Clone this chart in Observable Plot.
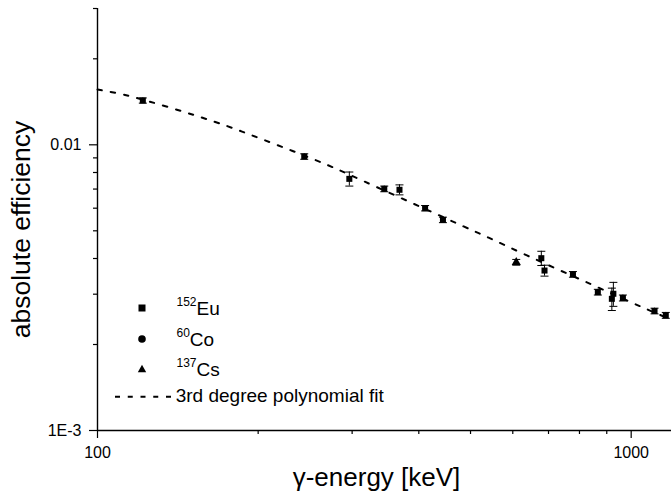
<!DOCTYPE html>
<html>
<head>
<meta charset="utf-8">
<script src="https://cdn.jsdelivr.net/npm/d3@7"></script>
<script src="https://cdn.jsdelivr.net/npm/@observablehq/plot@0.6"></script>
<style>
  body { margin: 0; background: #fff; }
  #wrap { position: relative; width: 671px; height: 494px; font-family: "Liberation Sans", Arial, sans-serif; color: #000; }
  #chart { position: absolute; left: 0; top: 0; }
  .lg { position: absolute; font-size: 19px; line-height: 19px; white-space: nowrap; }
  .lg sup { font-size: 12px; vertical-align: 9px; line-height: 0; }
  .sym { position: absolute; }
</style>
</head>
<body>
<div id="wrap">
  <div id="chart"></div>
  <div id="legend"></div>
</div>
<script>
// ---- data ----
const energy      = [121.6, 244.0, 296.4, 344.6, 368.0, 411.0, 443.9, 609.0, 678.6, 688.0, 777.8, 866.0, 926.0, 920.0, 964.9, 1106.0, 1161.0];
const efficiency  = [0.01429, 0.00910, 0.00760, 0.00701, 0.00696, 0.00600, 0.00546, 0.00388, 0.00401, 0.00363, 0.00352, 0.00305, 0.00301, 0.00289, 0.00291, 0.00262, 0.00253];
const uncertainty = [0.00030, 0.00020, 0.00043, 0.00016, 0.00028, 0.00013, 0.00012, 0.00009, 0.00023, 0.00016, 0.00008, 0.00007, 0.00029, 0.00026, 0.00007, 0.00006, 0.00006];
const source      = ["Eu","Eu","Eu","Eu","Eu","Eu","Eu","Cs","Eu","Eu","Eu","Eu","Eu","Eu","Eu","Eu","Eu"];

const fitEnergy     = [100, 113.7, 165.1, 204.8, 269.2, 315.3, 485.3, 540.5, 637.8, 838, 1040, 1190];
const fitEfficiency = [0.01561, 0.01488, 0.01207, 0.01041, 0.00851, 0.00746, 0.00518, 0.00473, 0.00410, 0.00326, 0.00272, 0.00244];

const xDomain = [100, 1190];
const yDomain = [0.001, 0.03];
const xMajorTicks = [100, 1000];
const xTickLabels = ["100", "1000"];
const xMinorTicks = [200, 300, 400, 500, 600, 700, 800, 900];
const yMajorTicks = [0.001, 0.01];
const yTickLabels = ["1E-3", "0.01"];
const yMinorTicks = [0.002, 0.003, 0.004, 0.005, 0.006, 0.007, 0.008, 0.009, 0.02, 0.03];

const xTitle = "γ-energy [keV]";
const yTitle = "absolute efficiency";
const legendIsotopes = [["152", "Eu"], ["60", "Co"], ["137", "Cs"]];
const legendFit = "3rd degree polynomial fit";

// ---- build ----
const points = energy.map((e, i) => ({e, eff: efficiency[i], err: uncertainty[i], src: source[i]}));
const fit = fitEnergy.map((e, i) => ({e, eff: fitEfficiency[i]}));

const capSymbol = {
  draw(ctx, size) {
    const w = Math.sqrt(size / Math.PI);
    ctx.moveTo(-w, 0);
    ctx.lineTo(w, 0);
  }
};

const chart = Plot.plot({
  width: 671,
  height: 494,
  marginLeft: 97,
  marginRight: 0,
  marginTop: 8,
  marginBottom: 64,
  style: {fontFamily: "'Liberation Sans', Arial, sans-serif", fontSize: "16px", color: "#000", background: "#fff"},
  x: {type: "log", domain: xDomain, axis: null},
  y: {type: "log", domain: yDomain, axis: null},
  marks: [
    Plot.ruleX([xDomain[0]], {stroke: "#000", strokeWidth: 1.4}),
    Plot.ruleY([yDomain[0]], {stroke: "#000", strokeWidth: 1.4}),
    Plot.axisX({ticks: xMajorTicks, tickSize: 8, tickPadding: 8.5, tickFormat: d => xTickLabels[xMajorTicks.indexOf(d)], fontSize: 16, label: null, strokeWidth: 1.2}),
    Plot.axisX({ticks: xMinorTicks, tickSize: 4, tickFormat: () => "", label: null, strokeWidth: 1.2}),
    Plot.axisY({ticks: yMajorTicks, tickSize: 8, tickPadding: 8, tickFormat: d => yTickLabels[yMajorTicks.indexOf(d)], fontSize: 16, label: null, strokeWidth: 1.2}),
    Plot.axisY({ticks: yMinorTicks, tickSize: 4, tickFormat: () => "", label: null, strokeWidth: 1.2}),
    Plot.line(fit, {x: "e", y: "eff", curve: "catmull-rom", stroke: "#000", strokeWidth: 2, strokeDasharray: "4.5,9"}),
    Plot.ruleX(points, {x: "e", y1: d => d.eff - d.err, y2: d => d.eff + d.err, stroke: "#000", strokeWidth: 1}),
    Plot.dot(points, {x: "e", y: d => d.eff - d.err, symbol: capSymbol, r: 4, stroke: "#000", strokeWidth: 1, fill: "none"}),
    Plot.dot(points, {x: "e", y: d => d.eff + d.err, symbol: capSymbol, r: 4, stroke: "#000", strokeWidth: 1, fill: "none"}),
    Plot.dot(points.filter(d => d.src === "Eu"), {x: "e", y: "eff", symbol: "square", r: 3.4, fill: "#000", stroke: "none"}),
    Plot.dot(points.filter(d => d.src === "Co"), {x: "e", y: "eff", symbol: "circle", r: 3.4, fill: "#000", stroke: "none"}),
    Plot.dot(points.filter(d => d.src === "Cs"), {x: "e", y: "eff", symbol: "triangle", r: 3.4, fill: "#000", stroke: "none"}),
    Plot.text([xTitle], {text: d => d, frameAnchor: "bottom", textAnchor: "middle", lineAnchor: "middle", dx: -8, dy: 47, fontSize: 26, fill: "#000"}),
    Plot.text([yTitle], {text: d => d, frameAnchor: "left", textAnchor: "middle", lineAnchor: "middle", rotate: -90, dx: -76, dy: 10, fontSize: 26.5, fill: "#000"})
  ]
});
document.getElementById("chart").appendChild(chart);

// ---- legend (HTML overlay) ----
const legend = document.getElementById("legend");
const rowSymbolY = [308.3, 338.5, 368.8];
const rowTextTop = [299, 330, 360];
const symbolShapes = [
  '<rect x="4.5" y="4.5" width="7" height="7" fill="#000"/>',
  '<circle cx="8" cy="8" r="3.8" fill="#000"/>',
  '<path d="M8,3.8 L12.2,11.2 L3.8,11.2 Z" fill="#000"/>'
];
legendIsotopes.forEach(([mass, el], i) => {
  const s = document.createElement("div");
  s.className = "sym";
  s.style.left = (142.3 - 8) + "px";
  s.style.top = (rowSymbolY[i] - 8) + "px";
  s.innerHTML = '<svg width="16" height="16">' + symbolShapes[i] + '</svg>';
  legend.appendChild(s);
  const t = document.createElement("div");
  t.className = "lg";
  t.style.left = "176.5px";
  t.style.top = rowTextTop[i] + "px";
  t.innerHTML = "<sup>" + mass + "</sup>" + el;
  legend.appendChild(t);
});
const ls = document.createElement("div");
ls.className = "sym";
ls.style.left = "114px";
ls.style.top = "389px";
ls.innerHTML = '<svg width="60" height="16"><line x1="1" y1="7.7" x2="57" y2="7.7" stroke="#000" stroke-width="2" stroke-dasharray="5,7.75"/></svg>';
legend.appendChild(ls);
const lt = document.createElement("div");
lt.className = "lg";
lt.style.left = "175.7px";
lt.style.top = "385.6px";
lt.textContent = legendFit;
legend.appendChild(lt);
</script>
</body>
</html>
